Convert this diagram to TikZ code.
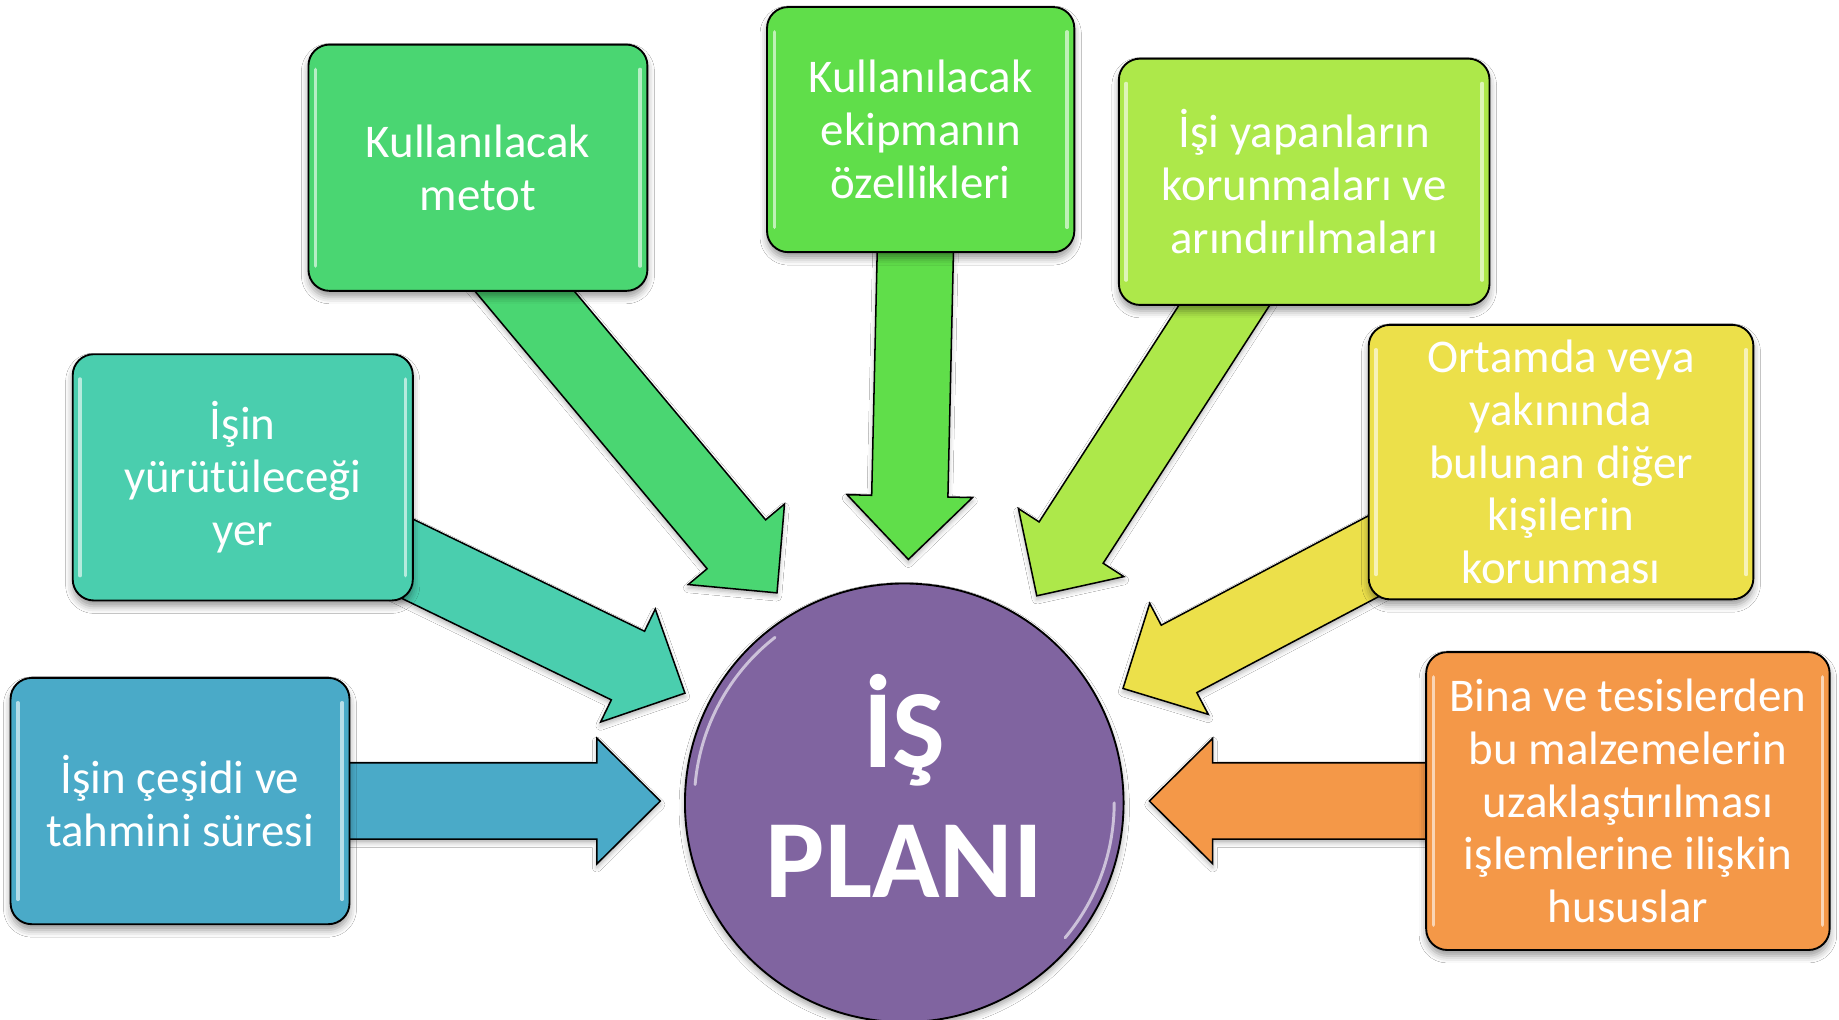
\documentclass[tikz,border=0pt]{standalone}
\usepackage{fontspec}
\setmainfont{Carlito}
\usetikzlibrary{calc,shadows.blur}
\definecolor{cA}{RGB}{74,214,114}
\definecolor{cB}{RGB}{96,222,74}
\definecolor{cC}{RGB}{173,232,74}
\definecolor{cD}{RGB}{74,206,174}
\definecolor{cE}{RGB}{236,224,74}
\definecolor{cF}{RGB}{74,170,200}
\definecolor{cG}{RGB}{244,152,72}
\definecolor{cP}{RGB}{128,100,160}
\tikzset{
  infobox/.style={draw=black, line width=1.6pt, rounded corners=18pt, text=white,
    align=center, font=\fontsize{40}{45}\selectfont, inner sep=0pt,
    blur shadow={shadow xshift=0pt, shadow yshift=-5pt, shadow blur radius=6pt, shadow opacity=40}},
  blockarrow/.style={draw=black, line width=1.3pt, line join=miter,
    blur shadow={shadow xshift=0pt, shadow yshift=-3pt, shadow blur radius=4pt, shadow opacity=30}},
  glossline/.style={white, opacity=0.6, line width=3pt, line cap=round},
}
\newcommand\blockarr[3]{%
  \coordinate (hb) at ($(#3)!54pt!(#2)$);
  \path[blockarrow, fill=#1]
    ($(#2)!32.5pt!90:(#3)$) -- ($(hb)!32.5pt!90:(#3)$) -- ($(hb)!53.5pt!90:(#3)$) -- (#3)
    -- ($(hb)!53.5pt!-90:(#3)$) -- ($(hb)!32.5pt!-90:(#3)$) -- ($(#2)!32.5pt!-90:(#3)$) -- cycle;
}
\newcommand\glossbox[1]{%
  \draw[glossline] ($(#1.north west)+(7,22)$) -- ($(#1.south west)+(7,-22)$);
  \draw[glossline] ($(#1.north east)+(-7,22)$) -- ($(#1.south east)+(-7,-22)$);
}
\begin{document}
\begin{tikzpicture}[x=1pt,y=-1pt]
\useasboundingbox (0,0) rectangle (1568,869);
\fill[white] (0,0) rectangle (1568,869);
% arrow end points
\coordinate (a1s) at (422,218);   \coordinate (a1e) at (662.5,505.5);
\coordinate (a2s) at (781,190);   \coordinate (a2e) at (774.5,477);
\coordinate (a3s) at (1066,226);  \coordinate (a3e) at (884,508);
\coordinate (a4s) at (330,468);   \coordinate (a4e) at (584,591);
\coordinate (a5s) at (1200,459);  \coordinate (a5e) at (957.5,587);
\coordinate (a6s) at (280,683);   \coordinate (a6e) at (563,683);
\coordinate (a7s) at (1240,683);  \coordinate (a7e) at (980,683);
\blockarr{cA}{a1s}{a1e}
\blockarr{cB}{a2s}{a2e}
\blockarr{cC}{a3s}{a3e}
\blockarr{cD}{a4s}{a4e}
\blockarr{cE}{a5s}{a5e}
\blockarr{cF}{a6s}{a6e}
\blockarr{cG}{a7s}{a7e}
% boxes
\node[infobox, fill=cA, minimum width=289pt, minimum height=210pt] (b1) at (407.5,143) {Kullanılacak\\metot};
\node[infobox, fill=cB, minimum width=262pt, minimum height=209pt] (b2) at (785,110.5) {Kullanılacak\\ekipmanın\\özellikleri};
\node[infobox, fill=cC, minimum width=316pt, minimum height=210pt] (b3) at (1112,155) {İşi yapanların\\korunmaları ve\\arındırılmaları};
\node[infobox, fill=cD, minimum width=290pt, minimum height=210pt] (b4) at (207,407) {İşin\\yürütüleceği\\yer};
\node[infobox, fill=cE, minimum width=328pt, minimum height=234pt] (b5) at (1331,394) {Ortamda veya\\yakınında\\bulunan diğer\\kişilerin\\korunması};
\node[infobox, fill=cF, minimum width=289pt, minimum height=210pt] (b6) at (153.5,683) {İşin çeşidi ve\\tahmini süresi};
\node[infobox, fill=cG, minimum width=344pt, minimum height=254pt] (b7) at (1388,683) {Bina ve tesislerden\\bu malzemelerin\\uzaklaştırılması\\işlemlerine ilişkin\\hususlar};
\glossbox{b1}\glossbox{b2}\glossbox{b3}\glossbox{b4}\glossbox{b5}\glossbox{b6}\glossbox{b7}
% centre
\node[circle, fill=cP, draw=black, line width=1.6pt, minimum size=374pt, inner sep=0pt,
  text=white, align=center, font=\bfseries\fontsize{95}{111}\selectfont,
  blur shadow={shadow xshift=0pt, shadow yshift=-4pt, shadow blur radius=5pt, shadow opacity=35}]
  (plan) at (771,684.5) {İŞ\\PLANI\rule[-29pt]{0pt}{0pt}};
\draw[glossline, line width=2.5pt] (plan.center) ++(185:179) arc[start angle=185, end angle=232, radius=179];
\draw[glossline, line width=2.5pt] (plan.center) ++(0:179) arc[start angle=0, end angle=40, radius=179];
\end{tikzpicture}
\end{document}
